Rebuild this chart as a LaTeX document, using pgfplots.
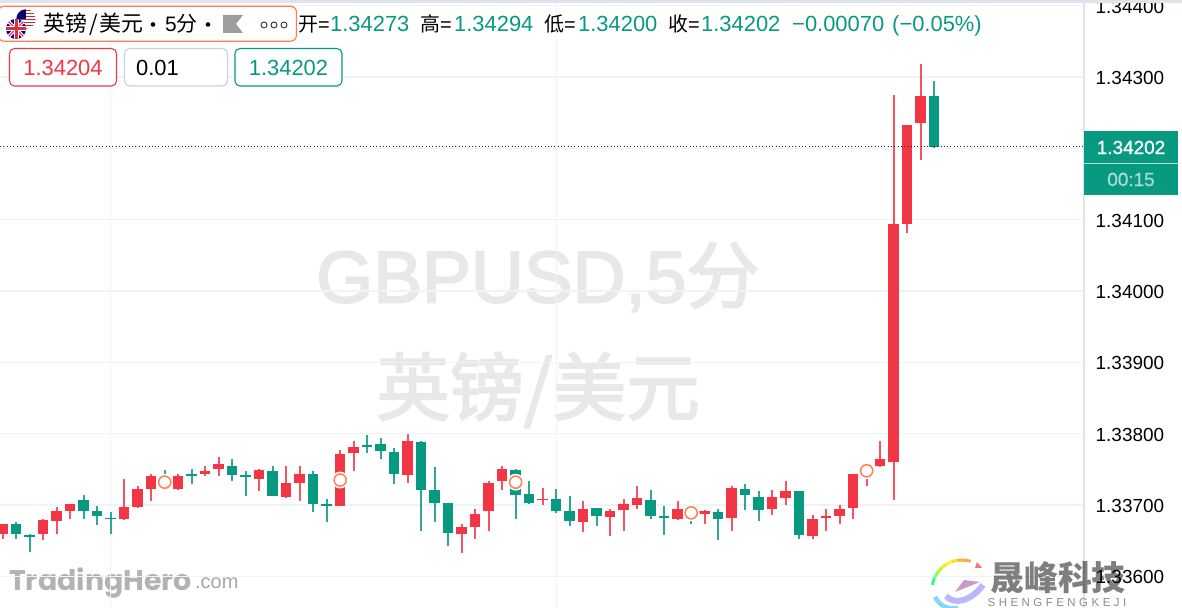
\documentclass[border=0pt]{standalone}
\usepackage{pgfplots}
\pgfplotsset{compat=1.18}
\usepackage{pgfplotstable}
\usepackage{fontspec}
\setmainfont{Liberation Sans}
\newfontfamily\cjk{Noto Sans CJK SC}
\newfontfamily\cjkb[FakeBold=2.5]{Noto Sans CJK SC}
\newfontfamily\lsb[FakeBold=2.5]{Liberation Sans}
\newfontfamily\lsm[FakeBold=1]{Liberation Sans}
\newfontfamily\pop{Poppins}
\definecolor{upc}{HTML}{F23645}
\definecolor{dnc}{HTML}{089981}
\definecolor{scalec}{HTML}{E0E3EB}
\definecolor{gridc}{HTML}{F0F3FA}
\definecolor{ringc}{HTML}{FF7F50}
\newcommand{\fs}[1]{\fontsize{#1}{#1}\selectfont}
% price axis values are (price - 1.33000) x 100000
% i open high low close
\pgfplotstableread{
i o h l c
0 3660 3674 3653 3674
3 3659 3681 3651 3679
4 3678 3697 3660 3692
5 3691 3702 3680 3701
9 3680 3736 3679 3697
10 3697 3727 3696 3723
11 3723 3743 3705 3741
13 3723 3744 3721 3741
15 3743 3754 3741 3748
16 3750 3767 3740 3757
19 3736 3751 3720 3749
21 3711 3754 3710 3731
22 3731 3755 3705 3744
25 3698 3777 3698 3772
26 3773 3790 3747 3782
30 3742 3800 3731 3790
34 3660 3674 3632 3669
35 3669 3695 3652 3687
36 3691 3733 3663 3731
37 3733 3754 3721 3751
40 3707 3724 3700 3708
43 3676 3706 3662 3694
45 3683 3694 3657 3691
46 3693 3708 3664 3702
47 3700 3726 3694 3710
50 3680 3706 3679 3694
52 3687 3693 3674 3691
54 3682 3727 3664 3724
57 3694 3721 3686 3711
58 3710 3734 3700 3719
60 3657 3686 3652 3680
61 3682 3695 3664 3685
62 3685 3700 3674 3694
63 3696 3743 3680 3743
64 3744 3754 3726 3751
65 3754 3790 3753 3764
66 3760 4275 3707 4094
67 4094 4233 4082 4233
68 4235 4318 4183 4273
}\upT
\pgfplotstableread{
i o h l c
1 3673 3676 3653 3660
2 3658 3660 3634 3655
6 3707 3714 3681 3692
7 3691 3699 3672 3684
8 3682 3690 3660 3681
12 3736 3749 3723 3727
14 3743 3751 3730 3741
17 3754 3765 3734 3742
18 3742 3747 3712 3739
20 3748 3754 3713 3713
23 3744 3747 3690 3701
24 3701 3708 3676 3699
27 3784 3798 3773 3782
28 3785 3794 3764 3775
29 3774 3780 3730 3744
31 3788 3790 3663 3721
32 3721 3753 3676 3703
33 3703 3703 3642 3661
38 3749 3751 3681 3714
39 3715 3734 3701 3703
41 3709 3722 3689 3691
42 3692 3712 3670 3677
44 3696 3696 3670 3684
48 3707 3721 3681 3685
49 3684 3699 3658 3682
51 3692 3694 3673 3686
53 3690 3695 3651 3681
55 3723 3729 3693 3714
56 3711 3720 3678 3693
59 3719 3719 3653 3658
69 4273 4294 4200 4202
}\dnT
\pgfplotstableread{
i y
12 3732
25 3735
38 3732
51 3689
64 3748
}\ringT
\pgfplotsset{cbar/.style={draw=none,mark=none,forget plot,error bars/.cd,y explicit,error mark=none,error mark options={draw=none,fill=none,mark size=0pt},error bar style={#1}}}
\begin{document}
\begin{tikzpicture}[x=1bp,y=1bp]
\useasboundingbox (0,0) rectangle (1182,608);
\fill[white] (0,0) rectangle (1182,608);
% watermarks
\begin{scope}[x=1bp,y=-1bp,yshift=608bp]
\node[text=black!9,inner sep=0,font=\fs{73.5}\lsb] at (538,277) {GBPUSD,5{\cjkb 分}};
\node[text=black!9,inner sep=0,font=\fs{74}\cjkb] at (538,390) {英镑/美元};
\node[text=black!30,inner sep=0,anchor=base west,font=\fs{28.5}\pop\bfseries] at (9,591) {TradingHero};
\node[text=black!35,inner sep=0,anchor=base west,font=\fs{20}] at (195,589) {.com};
\end{scope}
\begin{axis}[
  at={(0,0)},anchor=south west,
  scale only axis,width=1084bp,height=608bp,
  xmin=-0.2,xmax=80.1,ymin=3555.6,ymax=4408,
  axis line style={draw=none},
  tick style={draw=none},
  xtick={8,41},xticklabels={},
  ytick={3600,3700,3800,3900,4000,4100,4200,4300,4400},
  yticklabels={1.33600,1.33700,1.33800,1.33900,1.34000,1.34100,1.34200,1.34300,1.34400},
  yticklabel pos=right,
  y tick label style={anchor=west,inner sep=0pt,xshift=11.5bp,yshift=-1bp,font=\fs{19}},
  grid=major,
  major grid style={draw=gridc,line width=1.1bp},
]
% wicks
\addplot[cbar={draw=upc!85,line width=1.8bp},y dir=both]
  table[x=i,y=o,y error plus expr=\thisrow{h}-\thisrow{o},y error minus expr=\thisrow{o}-\thisrow{l}] {\upT};
\addplot[cbar={draw=dnc!85,line width=1.8bp},y dir=both]
  table[x=i,y=o,y error plus expr=\thisrow{h}-\thisrow{o},y error minus expr=\thisrow{o}-\thisrow{l}] {\dnT};
% bodies
\addplot[cbar={draw=upc,line width=10.6bp},y dir=plus]
  table[x=i,y=o,y error plus expr=\thisrow{c}-\thisrow{o}] {\upT};
\addplot[cbar={draw=dnc,line width=10.6bp},y dir=plus]
  table[x=i,y=c,y error plus expr=\thisrow{o}-\thisrow{c}] {\dnT};
% last price line
\addplot[dnc!30!black,dash pattern=on 1bp off 2.3bp,line width=1bp,forget plot] coordinates {(-0.2,4202) (80.1,4202)};
% event rings
\addplot[only marks,forget plot,draw=white,fill=white,mark=*,mark size=8.2pt,mark options={draw=white,fill=white}] table[x=i,y=y] {\ringT};
\addplot[only marks,forget plot,draw=ringc,fill=white,mark=*,mark size=6.1pt,mark options={draw=ringc,line width=1.5bp,fill=white}] table[x=i,y=y] {\ringT};
\end{axis}
\begin{scope}[x=1bp,y=-1bp,yshift=608bp]
% scale line, top band
\fill[scalec] (1083.2,0) rectangle (1085.2,608);
\fill[scalec] (0,0) rectangle (1182,2.7);
% price tag
\fill[dnc] (1084,131.5) rectangle (1178,195);
\draw[white!70!dnc,line width=0.8bp] (1084,163.3) -- (1178,163.3);
\node[text=white,inner sep=0,font=\fs{19}\lsm] at (1131,147.5) {1.34202};
\node[text=white!65!dnc,inner sep=0,font=\fs{19}\lsm] at (1131,179.5) {00:15};
% header box
\draw[ringc,fill=white,line width=1.2bp,rounded corners=6bp] (-2,6.3) rectangle (296.5,41.2);
\begin{scope}
\clip (26,19) circle (9.7);
\fill[white] (16,9) rectangle (36,29);
\foreach \yy in {10,13,16,19,22,25,28} {\fill[upc!80!black] (16,\yy) rectangle (36,\yy+1.5);}
\fill[blue!45!black] (16,9) rectangle (26,19);
\end{scope}
\begin{scope}
\clip (16,29) circle (10);
\fill[blue!55!black] (5,18) rectangle (27,40);
\draw[white,line width=3.4bp] (5,18) -- (27,40) (27,18) -- (5,40);
\draw[upc,line width=1.1bp] (5,18) -- (27,40) (27,18) -- (5,40);
\draw[white,line width=5bp] (16,18) -- (16,40) (5,29) -- (27,29);
\draw[upc!90!black,line width=3bp] (16,18) -- (16,40) (5,29) -- (27,29);
\end{scope}
\node[anchor=base west,inner sep=0,font=\fs{22}\cjk] at (43,32) {英镑\hspace{2pt}/\hspace{2pt}美元};
\fill (153,24.5) circle (2.3);
\node[anchor=base west,inner sep=0,font=\fs{21}] at (165,32) {5{\cjk 分}};
\fill (208,24.5) circle (2.3);
\fill[black!38] (223,15) -- (243,15) -- (236,24) -- (243,33) -- (223,33) -- cycle;
\foreach \xx in {264,274,284} {\draw[black!80,line width=0.9bp] (\xx,25) circle (3);}
% OHLC
\tikzset{ol/.style={anchor=base west,inner sep=0,font=\fs{20}},ov/.style={anchor=base west,inner sep=0,font=\fs{22},text=dnc}}
\node[ol] at (298,32) {{\cjk 开}=};
\node[ov] at (330,32) {1.34273};
\node[ol] at (420,32) {{\cjk 高}=};
\node[ov] at (454,32) {1.34294};
\node[ol] at (544,32) {{\cjk 低}=};
\node[ov] at (578,32) {1.34200};
\node[ol] at (668,32) {{\cjk 收}=};
\node[ov] at (701,32) {1.34202};
\node[ov] at (792,32) {−0.00070};
\node[ov] at (892,32) {(−0.05\%)};
% order buttons
\draw[upc,fill=white,line width=1.1bp,rounded corners=5bp] (9.5,48.5) rectangle (116.5,86);
\node[text=upc,inner sep=0,font=\fs{22}] at (63,67.5) {1.34204};
\draw[black!18,fill=white,line width=1.1bp,rounded corners=5bp] (124.5,48.5) rectangle (227.5,86);
\node[anchor=west,inner sep=0,font=\fs{22}] at (136,67.5) {0.01};
\draw[dnc,fill=white,line width=1.1bp,rounded corners=5bp] (235,48.5) rectangle (342,86);
\node[text=dnc,inner sep=0,font=\fs{22}] at (288.5,67.5) {1.34202};
% corner logo
\foreach \a/\c in {170/green!55!cyan,158/green!60,146/lime!80!green,134/yellow!90!green,122/yellow,110/yellow!80!orange,98/orange!70!yellow,86/orange!80}{
  \draw[\c,line width=3bp,opacity=.85] ({962+30*cos(\a)},{590-30*sin(\a)}) arc[start angle=-\a,end angle=-\a+13,radius=30];
}
\fill[red!55] (977,562) -- (982,568) -- (975,568) -- cycle;
\draw[cyan!60,line width=4.5bp,opacity=.8] (935,597) .. controls (940,606) and (948,610) .. (958,608);
\draw[blue!35,line width=6bp,opacity=.8] (946,596) .. controls (955,606) and (972,600) .. (983,585);
\fill[violet!40] (955,592) -- (980,582) -- (964,580) -- cycle;
\node[text=black,opacity=.5,inner sep=0,font=\fs{34}\cjk\bfseries] at (1058,578) {晟峰科技};
\node[text=black!45,inner sep=0,font=\fs{11.5}] at (1057,603) {S\hspace{3.5pt}H\hspace{3.5pt}E\hspace{3.5pt}N\hspace{3.5pt}G\hspace{3.5pt}F\hspace{3.5pt}E\hspace{3.5pt}N\hspace{3.5pt}G\hspace{3.5pt}K\hspace{3.5pt}E\hspace{3.5pt}J\hspace{3.5pt}I};
\end{scope}
\end{tikzpicture}
\end{document}
